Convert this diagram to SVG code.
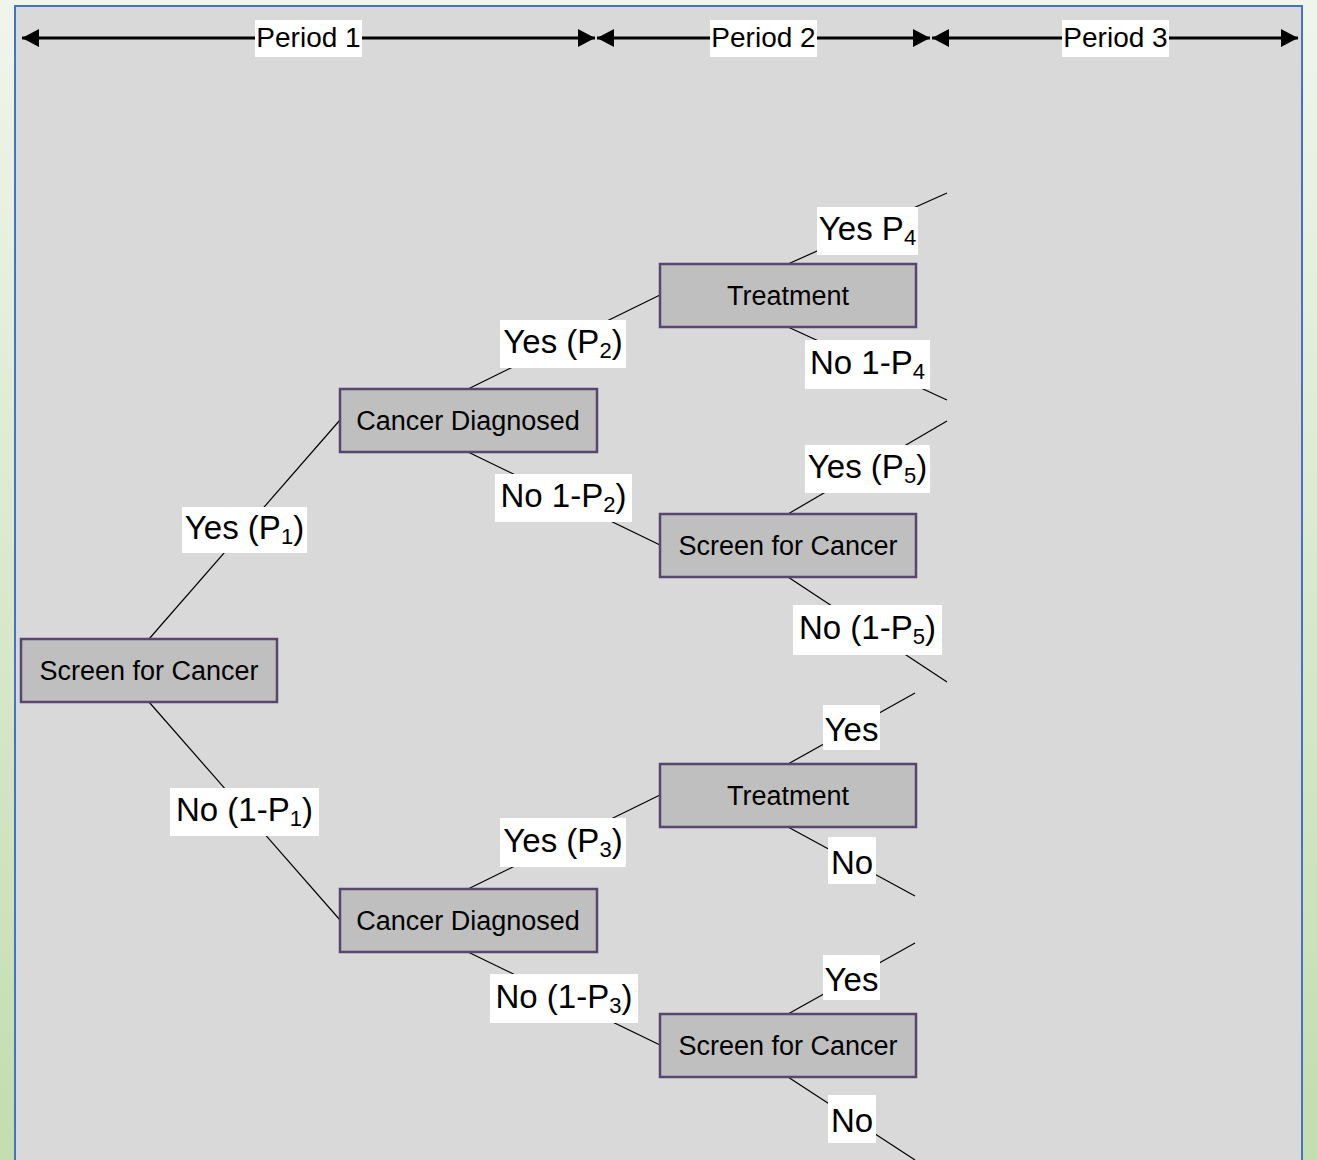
<svg xmlns="http://www.w3.org/2000/svg" width="1317" height="1160" viewBox="0 0 1317 1160">
<defs>
<linearGradient id="bg" x1="0" y1="0" x2="0" y2="1">
<stop offset="0" stop-color="#f0f5ec"/>
<stop offset="1" stop-color="#c2ddae"/>
</linearGradient>
<marker id="ah" viewBox="0 0 17 18" refX="17" refY="9" markerWidth="17" markerHeight="18" markerUnits="userSpaceOnUse" orient="auto-start-reverse">
<path d="M0,0 L17,9 L0,18 Z" fill="#000"/>
</marker>
<style>
.node rect{fill:#bfbfbf;stroke:#57476f;stroke-width:2.5}
.node text{font-family:"Liberation Sans",Arial,sans-serif;font-size:27px;fill:#000;text-anchor:middle}
.lbl rect{fill:#fff}
.lbl text{font-family:"Liberation Sans",Arial,sans-serif;font-size:33px;fill:#000;text-anchor:middle}
.per rect{fill:#fff}
.per text{font-family:"Liberation Sans",Arial,sans-serif;font-size:28px;fill:#000;text-anchor:middle}
.conn line{stroke:#000;stroke-width:1.2}
.hdr line{stroke:#000;stroke-width:3}
.sub{font-size:22px}
</style>
</defs>
<rect x="0" y="0" width="1317" height="1160" fill="url(#bg)"/>
<rect x="15" y="6" width="1287" height="1170" fill="#d9d9d9" stroke="#4472c4" stroke-width="2"/>

<g id="header" class="hdr">
<line x1="22" y1="38" x2="595" y2="38" marker-start="url(#ah)" marker-end="url(#ah)"/>
<line x1="597" y1="38" x2="930" y2="38" marker-start="url(#ah)" marker-end="url(#ah)"/>
<line x1="932" y1="38" x2="1298" y2="38" marker-start="url(#ah)" marker-end="url(#ah)"/>
</g>
<g id="period1" class="per"><rect x="255" y="20" width="107" height="37"/><text x="308.5" y="47">Period 1</text></g>
<g id="period2" class="per"><rect x="710" y="20" width="107" height="37"/><text x="763.5" y="47">Period 2</text></g>
<g id="period3" class="per"><rect x="1062" y="20" width="107" height="37"/><text x="1115.5" y="47">Period 3</text></g>

<g id="connectors" class="conn">
<line x1="149" y1="639" x2="340" y2="420"/>
<line x1="149" y1="702" x2="340" y2="920"/>
<line x1="468" y1="389" x2="660" y2="295"/>
<line x1="468" y1="452" x2="660" y2="545"/>
<line x1="788" y1="264" x2="947" y2="193"/>
<line x1="788" y1="327" x2="947" y2="400"/>
<line x1="788" y1="514" x2="947" y2="421"/>
<line x1="788" y1="577" x2="947" y2="682"/>
<line x1="468" y1="889" x2="660" y2="795"/>
<line x1="468" y1="952" x2="660" y2="1045"/>
<line x1="788" y1="764" x2="915" y2="693"/>
<line x1="788" y1="827" x2="915" y2="896"/>
<line x1="788" y1="1014" x2="915" y2="943"/>
<line x1="788" y1="1077" x2="915" y2="1160"/>
</g>

<g id="n-root" class="node"><rect x="21" y="639" width="256" height="63"/><text x="149" y="680">Screen for Cancer</text></g>
<g id="n-cd1" class="node"><rect x="340" y="389" width="257" height="63"/><text x="468" y="430">Cancer Diagnosed</text></g>
<g id="n-tr1" class="node"><rect x="660" y="264" width="256" height="63"/><text x="788" y="305">Treatment</text></g>
<g id="n-sc1" class="node"><rect x="660" y="514" width="256" height="63"/><text x="788" y="555">Screen for Cancer</text></g>
<g id="n-tr2" class="node"><rect x="660" y="764" width="256" height="63"/><text x="788" y="805">Treatment</text></g>
<g id="n-cd2" class="node"><rect x="340" y="889" width="257" height="63"/><text x="468" y="930">Cancer Diagnosed</text></g>
<g id="n-sc2" class="node"><rect x="660" y="1014" width="256" height="63"/><text x="788" y="1055">Screen for Cancer</text></g>

<g id="l1" class="lbl"><rect x="182" y="507" width="125" height="46"/><text x="244.5" y="539">Yes (P<tspan class="sub" dy="5">1</tspan><tspan dy="-5">)</tspan></text></g>
<g id="l2" class="lbl"><rect x="170" y="788" width="149" height="48"/><text x="244.5" y="821">No (1-P<tspan class="sub" dy="5">1</tspan><tspan dy="-5">)</tspan></text></g>
<g id="l3" class="lbl"><rect x="500" y="320" width="126" height="48"/><text x="563" y="353">Yes (P<tspan class="sub" dy="5">2</tspan><tspan dy="-5">)</tspan></text></g>
<g id="l4" class="lbl"><rect x="495" y="474" width="137" height="48"/><text x="563.5" y="507">No 1-P<tspan class="sub" dy="5">2</tspan><tspan dy="-5">)</tspan></text></g>
<g id="l5" class="lbl"><rect x="817" y="207" width="101" height="48"/><text x="867.5" y="240">Yes P<tspan class="sub" dy="5">4</tspan></text></g>
<g id="l6" class="lbl"><rect x="805" y="340" width="125" height="49"/><text x="867.5" y="374">No 1-P<tspan class="sub" dy="5">4</tspan></text></g>
<g id="l7" class="lbl"><rect x="805" y="445" width="125" height="48"/><text x="867.5" y="478">Yes (P<tspan class="sub" dy="5">5</tspan><tspan dy="-5">)</tspan></text></g>
<g id="l8" class="lbl"><rect x="793" y="605" width="149" height="50"/><text x="867.5" y="639">No (1-P<tspan class="sub" dy="5">5</tspan><tspan dy="-5">)</tspan></text></g>
<g id="l9" class="lbl"><rect x="500" y="818" width="126" height="49"/><text x="563" y="852">Yes (P<tspan class="sub" dy="5">3</tspan><tspan dy="-5">)</tspan></text></g>
<g id="l10" class="lbl"><rect x="490" y="974" width="148" height="49"/><text x="564" y="1008">No (1-P<tspan class="sub" dy="5">3</tspan><tspan dy="-5">)</tspan></text></g>
<g id="l11" class="lbl"><rect x="823" y="705" width="57" height="45"/><text x="851.5" y="741">Yes</text></g>
<g id="l12" class="lbl"><rect x="828" y="837" width="48" height="47"/><text x="852" y="874">No</text></g>
<g id="l13" class="lbl"><rect x="823" y="955" width="57" height="45"/><text x="851.5" y="991">Yes</text></g>
<g id="l14" class="lbl"><rect x="828" y="1095" width="48" height="48"/><text x="852" y="1132">No</text></g>
</svg>
